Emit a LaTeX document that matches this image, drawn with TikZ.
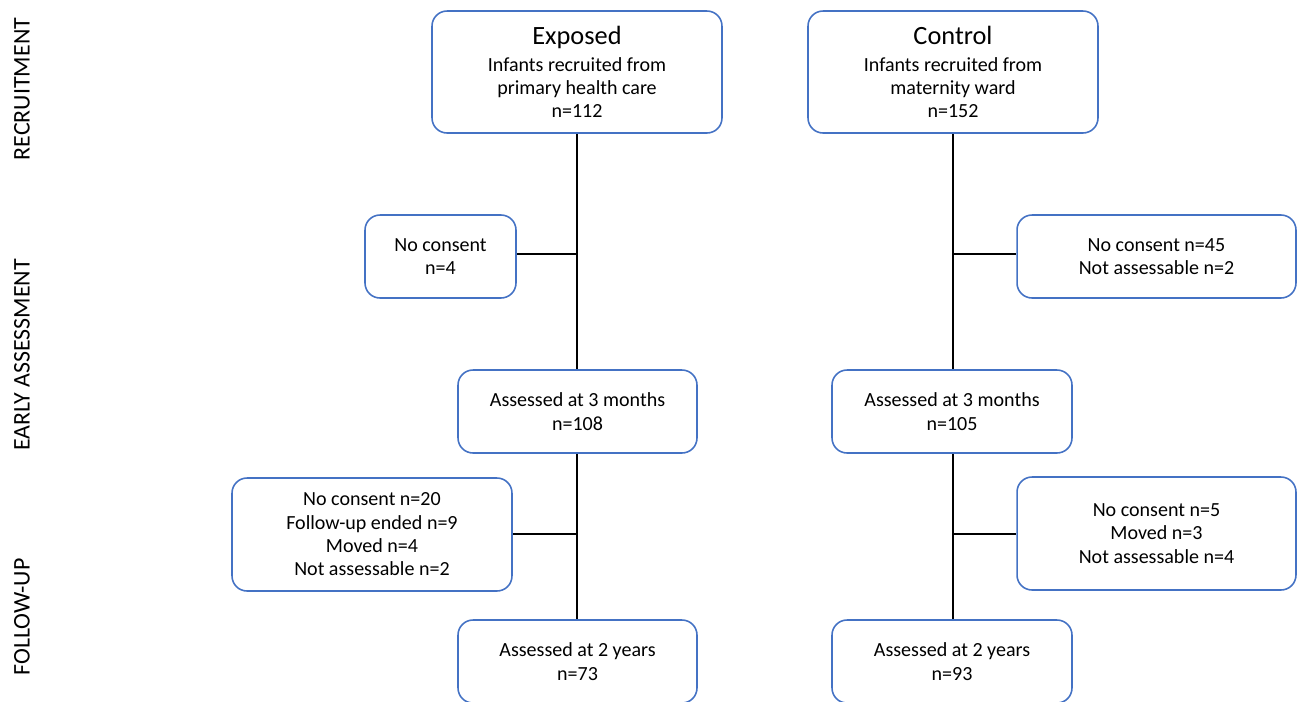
\documentclass[tikz,border=0pt]{standalone}
\usepackage{fontspec}
\setmainfont{Carlito}
\usetikzlibrary{positioning}

\definecolor{boxblue}{HTML}{4472C4}

\begin{document}
\begin{tikzpicture}[x=0.02cm, y=-0.02cm,
  every node/.style={font=\fontsize{11.4}{13.3}\selectfont},
  flowbox/.style={draw=boxblue, line width=0.9pt, rounded corners=0.3cm, align=center, inner sep=0pt},
  phase/.style={rotate=90, font=\fontsize{13.6}{16}\selectfont},
  link/.style={draw=black, line width=0.6pt}]
\useasboundingbox (0,0) rectangle (1298,701);
\clip (0,0) rectangle (1298,701);

% phase labels
\node[phase] (recruit) at (22,89) {RECRUITMENT};
\node[phase] (early) at (22,355) {EARLY ASSESSMENT};
\node[phase] (follow) at (22,617) {FOLLOW-UP};

% exposed arm
\node[flowbox, minimum width=5.8cm, minimum height=2.44cm] (exptop) at (577,72)
  {{\fontsize{15}{17}\selectfont Exposed}\\[2pt] Infants recruited from\\ primary health care\\ n=112};
\node[flowbox, minimum width=3.02cm, minimum height=1.66cm] (expout1) at (440.5,256.5)
  {No consent\\ n=4};
\node[flowbox, minimum width=4.78cm, minimum height=1.66cm] (exp3m) at (577.5,411.5)
  {Assessed at 3 months\\ n=108};
\node[flowbox, minimum width=5.6cm, minimum height=2.26cm] (expout2) at (372,534.5)
  {No consent n=20\\ Follow-up ended n=9\\ Moved n=4\\ Not assessable n=2};
\node[flowbox, minimum width=4.78cm, minimum height=1.66cm] (exp2y) at (577.5,661.5)
  {Assessed at 2 years\\ n=73};

% control arm
\node[flowbox, minimum width=5.8cm, minimum height=2.44cm] (contop) at (953,72)
  {{\fontsize{15}{17}\selectfont Control}\\[2pt] Infants recruited from\\ maternity ward\\ n=152};
\node[flowbox, minimum width=5.58cm, minimum height=1.66cm] (conout1) at (1156.5,256.5)
  {No consent n=45\\ Not assessable n=2};
\node[flowbox, minimum width=4.8cm, minimum height=1.66cm] (con3m) at (952,411.5)
  {Assessed at 3 months\\ n=105};
\node[flowbox, minimum width=5.58cm, minimum height=2.26cm] (conout2) at (1156.5,533.5)
  {No consent n=5\\ Moved n=3\\ Not assessable n=4};
\node[flowbox, minimum width=4.8cm, minimum height=1.66cm] (con2y) at (952,661.5)
  {Assessed at 2 years\\ n=93};

% connectors
\coordinate (expj1) at (577,254);
\coordinate (expj2) at (577,534);
\coordinate (conj1) at (953,254);
\coordinate (conj2) at (953,534);

\draw[link] (exptop.south) -- (exptop.south |- exp3m.north);
\draw[link] (exptop.south |- exp3m.south) -- (exptop.south |- exp2y.north);
\draw[link] (expj1) -- (expout1.east |- expj1);
\draw[link] (expj2) -- (expout2.east |- expj2);

\draw[link] (contop.south) -- (contop.south |- con3m.north);
\draw[link] (contop.south |- con3m.south) -- (contop.south |- con2y.north);
\draw[link] (conj1) -- (conout1.west |- conj1);
\draw[link] (conj2) -- (conout2.west |- conj2);
\end{tikzpicture}
\end{document}
